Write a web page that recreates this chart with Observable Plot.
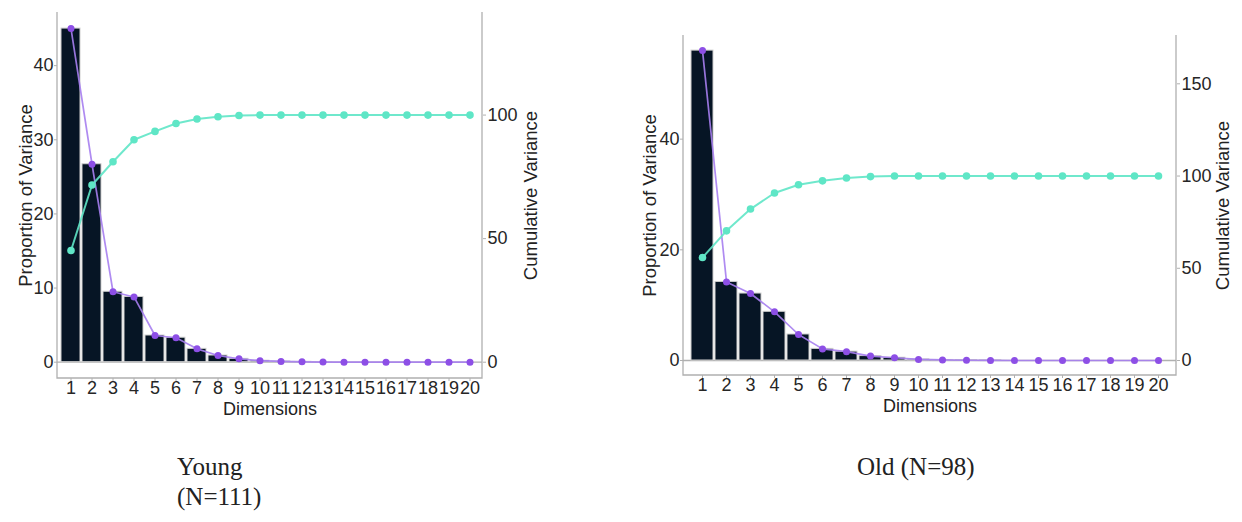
<!DOCTYPE html>
<html>
<head>
<meta charset="utf-8">
<script src="https://cdn.jsdelivr.net/npm/d3@7"></script>
<script src="https://cdn.jsdelivr.net/npm/@observablehq/plot@0.6"></script>
<style>
  html, body { margin: 0; padding: 0; background: #fff; }
  #wrap { position: relative; width: 1242px; height: 522px; overflow: hidden; background: #fff; }
  .chart { position: absolute; top: 0; }
  .cap { position: absolute; font-family: "Liberation Serif", "DejaVu Serif", serif; font-size: 25px; line-height: 25px; color: #222; white-space: nowrap; }
</style>
</head>
<body>
<div id="wrap">
  <div id="young" class="chart" style="left:0px"></div>
  <div id="old" class="chart" style="left:620px"></div>
  <div class="cap" style="left:177px; top:454px">Young</div>
  <div class="cap" style="left:177px; top:484px">(N=111)</div>
  <div class="cap" style="left:857px; top:454px">Old (N=98)</div>
</div>
<script>
// ---- data ----
const dimensions = [1, 2, 3, 4, 5, 6, 7, 8, 9, 10, 11, 12, 13, 14, 15, 16, 17, 18, 19, 20];

const youngProportion = [45.0, 26.7, 9.5, 8.8, 3.6, 3.3, 1.8, 0.9, 0.45, 0.2, 0.1, 0.05, 0.02, 0, 0, 0, 0, 0, 0, 0];
const youngCumulative = [45.2, 71.7, 81.1, 90.0, 93.4, 96.6, 98.4, 99.3, 99.8, 100, 100, 100, 100, 100, 100, 100, 100, 100, 100, 100];

const oldProportion = [56.0, 14.2, 12.1, 8.8, 4.7, 2.1, 1.6, 0.8, 0.5, 0.2, 0.1, 0.05, 0.02, 0, 0, 0, 0, 0, 0, 0];
const oldCumulative = [55.8, 70.3, 82.1, 90.8, 95.3, 97.4, 98.9, 99.7, 100, 100, 100, 100, 100, 100, 100, 100, 100, 100, 100, 100];

const leftTicks = [0, 10, 20, 30, 40];        // Proportion of Variance (young)
const leftTicksOld = [0, 20, 40];             // Proportion of Variance (old)
const rightTicks = [0, 50, 100, 150];         // Cumulative Variance
const secondaryFactor = 3;                    // cumulative axis = 3 x primary axis

const labelX = "Dimensions";
const labelYLeft = "Proportion of Variance";
const labelYRight = "Cumulative Variance";

// ---- styles ----
const barFill = "#061525";
const barStroke = "#cfcfcf";
const purpleLine = "#a67ef0";
const purpleDot = "#8d4fe6";
const cyan = "#5fe6c6";
const axisGray = "#b0b0b0";
const textColor = "#262626";
const font = "'Liberation Sans', Arial, sans-serif";

function axisLines(index, scales, values, dims) {
  const ns = "http://www.w3.org/2000/svg";
  const p = document.createElementNS(ns, "path");
  const l = dims.marginLeft, r = dims.width - dims.marginRight;
  const t = dims.marginTop, b = dims.height - dims.marginBottom;
  p.setAttribute("d", `M${l},${t}V${b}H${r}V${t}`);
  p.setAttribute("fill", "none");
  p.setAttribute("stroke", axisGray);
  p.setAttribute("stroke-width", "1.3");
  return p;
}

function makeChart(cfg) {
  const table = dimensions.map((d, i) => ({dim: d, prop: cfg.prop[i], cum: cfg.cum[i]}));
  const rTicks = rightTicks.filter(t => t / secondaryFactor <= cfg.yDomain[1]);
  return Plot.plot({
    width: cfg.width,
    height: cfg.height,
    marginLeft: cfg.marginLeft,
    marginRight: cfg.marginRight,
    marginTop: cfg.marginTop,
    marginBottom: cfg.marginBottom,
    style: {fontFamily: font, fontSize: "18px", color: textColor, background: "transparent", overflow: "visible"},
    x: {type: "band", domain: dimensions, paddingInner: 0.1, paddingOuter: 0.15, align: 0.5},
    y: {domain: cfg.yDomain},
    marks: [
      Plot.ruleY([0], {stroke: axisGray, strokeWidth: 1.3}),
      Plot.barY(table, {x: "dim", y: "prop", fill: barFill, stroke: barStroke, strokeWidth: 1}),
      Plot.line(table, {x: "dim", y: "prop", stroke: purpleLine, strokeWidth: 1.7, strokeOpacity: 0.9}),
      Plot.dot(table, {x: "dim", y: "prop", r: 3.5, fill: purpleDot, stroke: "none"}),
      Plot.line(table, {x: "dim", y: d => d.cum / secondaryFactor, stroke: cyan, strokeWidth: 2, strokeOpacity: 0.9}),
      Plot.dot(table, {x: "dim", y: d => d.cum / secondaryFactor, r: 3.8, fill: cyan, stroke: "none"}),
      Plot.axisX({tickSize: 3, tickPadding: 0, label: null, stroke: axisGray, fill: textColor, fontSize: 18}),
      Plot.axisY({anchor: "left", ticks: cfg.leftTicks, tickSize: 3, tickPadding: 1, label: null, stroke: axisGray, fill: textColor, fontSize: 18}),
      Plot.axisY({anchor: "right", ticks: rTicks.map(t => t / secondaryFactor), tickFormat: v => Math.round(v * secondaryFactor), tickSize: 3, tickPadding: 2, label: null, stroke: axisGray, fill: textColor, fontSize: 18}),
      axisLines,
      Plot.text([labelX], {frameAnchor: "bottom", dy: 31, fontSize: 18, fill: "#222", textAnchor: "middle", lineAnchor: "middle"}),
      Plot.text([labelYLeft], {frameAnchor: "left", dx: cfg.leftTitleDx, rotate: -90, fontSize: 18.5, fill: "#222", textAnchor: "middle", lineAnchor: "middle"}),
      Plot.text([labelYRight], {frameAnchor: "right", dx: cfg.rightTitleDx, rotate: -90, fontSize: 18.5, fill: "#222", textAnchor: "middle", lineAnchor: "middle"})
    ]
  });
}

document.getElementById("young").appendChild(makeChart({
  prop: youngProportion, cum: youngCumulative, leftTicks: leftTicks,
  width: 560, height: 420, marginLeft: 57, marginRight: 78, marginTop: 12, marginBottom: 42,
  yDomain: [-2.2, 47.17], leftTitleDx: -31, rightTitleDx: 49
}));
document.getElementById("old").appendChild(makeChart({
  prop: oldProportion, cum: oldCumulative, leftTicks: leftTicksOld,
  width: 622, height: 420, marginLeft: 63, marginRight: 66, marginTop: 35, marginBottom: 45,
  yDomain: [-2.71, 58.73], leftTitleDx: -33, rightTitleDx: 47
}));
</script>
</body>
</html>
